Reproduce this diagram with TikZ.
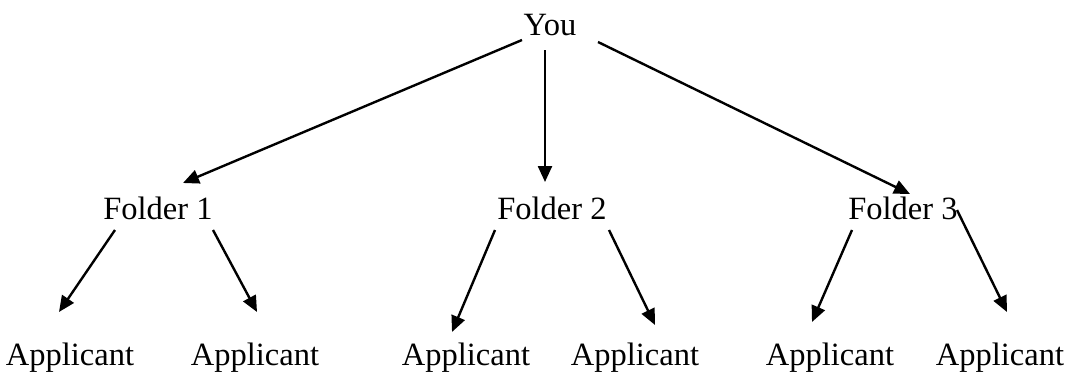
\documentclass[tikz,border=0pt]{standalone}
\usepackage{fontspec}
\setmainfont{Liberation Serif}
\usepackage{tikz}
\usetikzlibrary{arrows.meta}

\begin{document}
\begin{tikzpicture}[x=1pt,y=-1pt,
  lbl/.style = {inner sep=0pt,anchor=base,font=\fontsize{32.5}{38}\selectfont},
  link/.style = {line width=2.4pt,-{Triangle[length=16pt,width=14pt]}}
]
 \useasboundingbox (0,0) rectangle (1072,372);
 \node[lbl] (you) at (550,35) {You};
 \node[lbl] (f1) at (158,219) {Folder 1};
 \node[lbl] (f2) at (552,219) {Folder 2};
 \node[lbl] (f3) at (903,219) {Folder 3};
 \node[lbl] (a1) at (70,365)   {Applicant};
 \node[lbl] (a2) at (255,365)  {Applicant};
 \node[lbl] (a3) at (466,365)  {Applicant};
 \node[lbl] (a4) at (635,365)  {Applicant};
 \node[lbl] (a5) at (830,365)  {Applicant};
 \node[lbl] (a6) at (1000,365) {Applicant};
 \begin{scope}[link]
  \draw ([shift={(-28,5)}]you.base) -- ([shift={(25,-36)}]f1.base);
  \draw ([shift={(-5,15)}]you.base) -- ([shift={(-7,-37)}]f2.base);
  \draw ([shift={(48,7)}]you.base) -- ([shift={(7,-25)}]f3.base);
  \draw ([shift={(-43,11)}]f1.base) -- ([shift={(-11,-53)}]a1.base);
  \draw ([shift={(55,11)}]f1.base) -- ([shift={(2,-53)}]a2.base);
  \draw ([shift={(-57,11)}]f2.base) -- ([shift={(-14,-33)}]a3.base);
  \draw ([shift={(57,11)}]f2.base) -- ([shift={(20,-40)}]a4.base);
  \draw ([shift={(-51,11)}]f3.base) -- ([shift={(-18,-43)}]a5.base);
  \draw ([shift={(54,-9)}]f3.base) -- ([shift={(7,-53)}]a6.base);
 \end{scope}
\end{tikzpicture}
\end{document}
